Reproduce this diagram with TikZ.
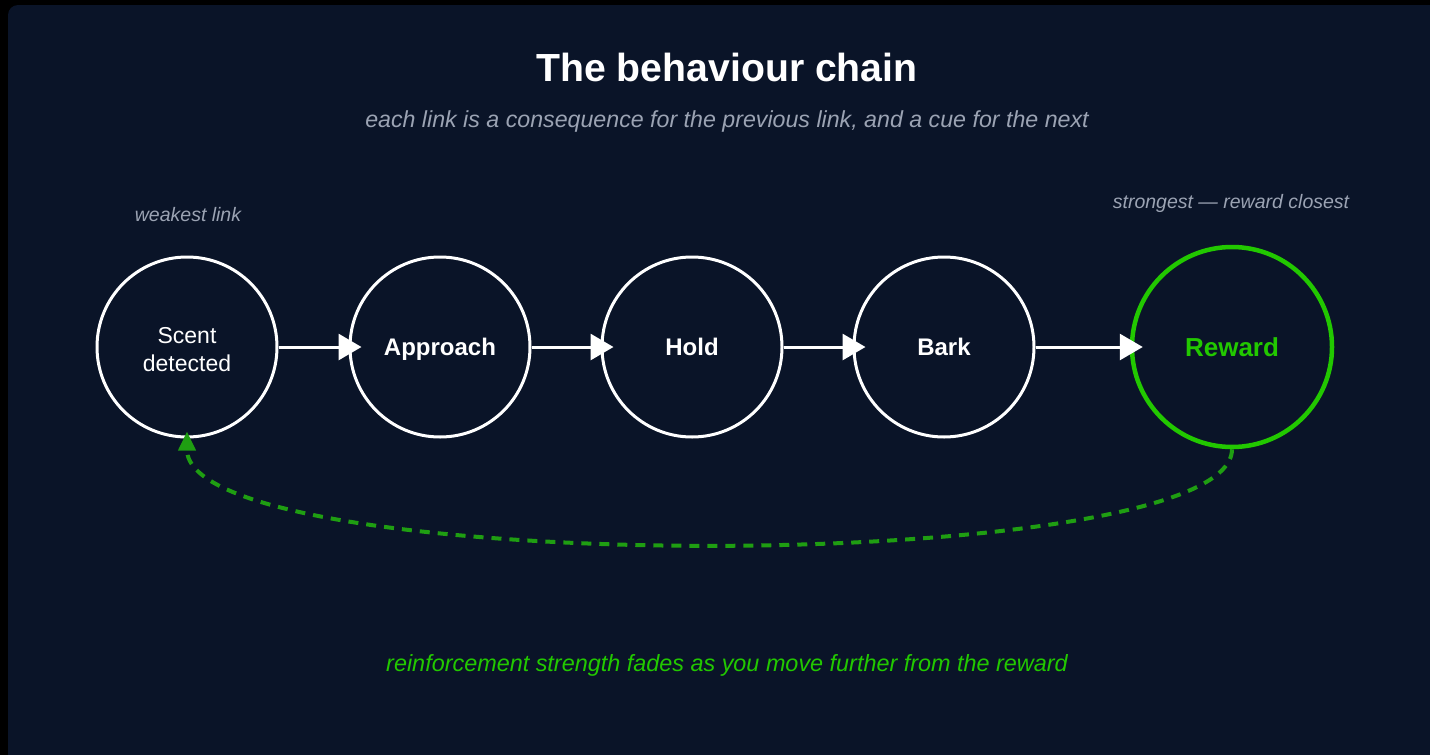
\documentclass[tikz,border=0pt]{standalone}
\usepackage{fontspec}
\setmainfont{Liberation Sans}
\usetikzlibrary{arrows.meta}
\definecolor{bg}{HTML}{0A1428}
\definecolor{subgray}{HTML}{9BA3B3}
\definecolor{rewardgreen}{HTML}{22C800}
\definecolor{dashgreen}{HTML}{1F9E12}
\begin{document}
\begin{tikzpicture}[x=1pt,y=-1pt,
  link/.style={circle, draw=white, line width=3pt, minimum size=180pt, inner sep=0pt, text=white, align=center},
  goal/.style={circle, draw=rewardgreen, line width=4.5pt, minimum size=200pt, inner sep=0pt, text=rewardgreen, font=\fontsize{26}{30}\selectfont\bfseries},
  chainarrow/.style={draw=white, line width=3pt, -{Triangle[length=23pt,width=26pt]}, shorten >=-13pt},
  backarrow/.style={draw=dashgreen, line width=4pt, dash pattern=on 10pt off 8pt, -{Triangle[length=19pt,width=17pt]}},
  note/.style={text=subgray, font=\fontsize{19.5}{23}\selectfont\itshape, anchor=base}
]
\useasboundingbox (0,0) rectangle (1430,755);
\fill[black] (0,0) rectangle (1430,755);
\fill[bg, rounded corners=10pt] (8,5) rectangle (1460,780);

\node[text=white, font=\fontsize{39.2}{44}\selectfont\bfseries, anchor=base] (title) at (727,81) {The behaviour chain};
\node[text=subgray, font=\fontsize{23.2}{27}\selectfont\itshape, anchor=base] (subtitle) at (727,127) {each link is a consequence for the previous link, and a cue for the next};

\node[note] (weak) at (188,221) {weakest link};
\node[note] (strong) at (1231,208) {strongest — reward closest};

\node[link, font=\fontsize{23}{28}\selectfont] (scent) at (187,347) {\rule{0pt}{21pt}Scent\\detected};
\node[link, font=\fontsize{24}{28}\selectfont\bfseries, text depth=0pt] (approach) at (440,347) {Approach};
\node[link, font=\fontsize{24}{28}\selectfont\bfseries] (hold) at (692,347) {Hold};
\node[link, font=\fontsize{24}{28}\selectfont\bfseries] (bark) at (944,347) {Bark};
\node[goal] (reward) at (1232,347) {Reward};

\draw[chainarrow] (scent.east) -- (approach.west);
\draw[chainarrow] (approach.east) -- (hold.west);
\draw[chainarrow] (hold.east) -- (bark.west);
\draw[chainarrow] (bark.east) -- (reward.west);

\coordinate (rstart) at (reward.south);
\coordinate (send) at ([yshift=7pt]scent.south);
\draw[backarrow] (rstart) .. controls (1232,578) and (187,578) .. (send);

\node[text=rewardgreen, font=\fontsize{23.4}{27}\selectfont\itshape, anchor=base] (fade) at (727,671) {reinforcement strength fades as you move further from the reward};
\end{tikzpicture}
\end{document}
